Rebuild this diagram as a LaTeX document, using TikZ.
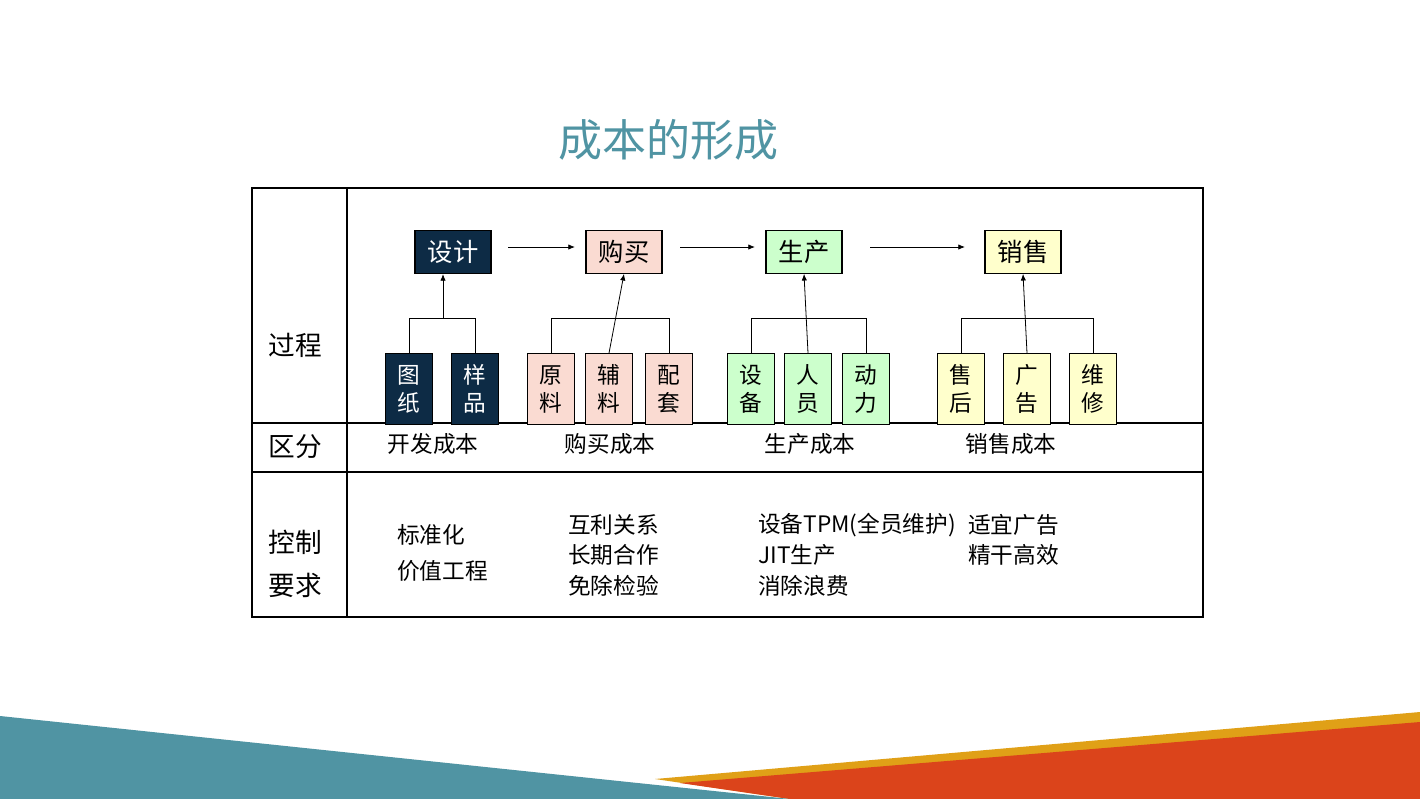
\documentclass[tikz,border=0pt]{standalone}
\usepackage{fontspec}
\setmainfont{Noto Sans CJK SC}
\usetikzlibrary{arrows.meta}
\definecolor{navy}{HTML}{0D2B45}
\definecolor{pinkf}{HTML}{FADBD2}
\definecolor{greenf}{HTML}{CCFFCC}
\definecolor{yellf}{HTML}{FFFFCC}
\definecolor{teal}{HTML}{5094A3}
\definecolor{gold}{HTML}{E0A017}
\definecolor{redo}{HTML}{DB441B}
\tikzset{
 top/.style={draw=black,line width=0.8pt,minimum width=57pt,minimum height=32pt,inner sep=0pt,font=\fontsize{19}{22}\selectfont},
 sub/.style={draw=black,line width=0.8pt,minimum width=35pt,minimum height=53pt,inner sep=0pt,align=center,font=\fontsize{17}{21}\selectfont},
 lab/.style={font=\fontsize{20}{24}\selectfont,align=left},
 txt/.style={font=\fontsize{17}{20}\selectfont,anchor=west,inner sep=0pt},
 arr/.style={-{Latex[length=5pt,width=4pt]},line width=0.6pt},
 ln/.style={line width=0.6pt}
}
\begin{document}
\begin{tikzpicture}[x=0.75pt,y=-0.75pt]
\useasboundingbox (0,0) rectangle (1420,799);
\fill[white] (0,0) rectangle (1420,799);
% banner
\fill[gold] (655,779) -- (1420,712) -- (1420,799) -- (790,799) -- cycle;
\fill[redo] (680,783) -- (1420,722) -- (1420,799) -- (790,799) -- cycle;
\fill[teal] (0,716) -- (790,799) -- (0,799) -- cycle;
% title
\node[text=teal,font=\fontsize{33}{38}\selectfont] (title) at (668,140) {成本的形成};
% table
\draw[line width=0.8pt] (252,423) -- (1203,423) (252,472) -- (1203,472) (347,188) -- (347,617);
\draw[line width=1.6pt] (252,188) rectangle (1203,617);
\node[lab] (l1) at (295,345) {过程};
\node[lab] (l2) at (295,447) {区分};
\node[lab,font=\fontsize{20}{32}\selectfont] (l3) at (295,564) {控制\\要求};
% top nodes
\node[top,fill=navy,text=white] (d) at (453,252) {设计};
\node[top,fill=pinkf] (g) at (624,252) {购买};
\node[top,fill=greenf] (s) at (804,252) {生产};
\node[top,fill=yellf] (x) at (1023,252) {销售};
\draw[arr] (508,247) -- (575,247);
\draw[arr] (680,247) -- (755,247);
\draw[arr] (870,247) -- (965,247);
% sub nodes
\node[sub,fill=navy,text=white] (d1) at (409,389) {图\\纸};
\node[sub,fill=navy,text=white] (d2) at (475,389) {样\\品};
\node[sub,fill=pinkf] (g1) at (551,389) {原\\料};
\node[sub,fill=pinkf] (g2) at (609,389) {辅\\料};
\node[sub,fill=pinkf] (g3) at (669,389) {配\\套};
\node[sub,fill=greenf] (s1) at (751,389) {设\\备};
\node[sub,fill=greenf] (s2) at (808,389) {人\\员};
\node[sub,fill=greenf] (s3) at (866,389) {动\\力};
\node[sub,fill=yellf] (x1) at (961,389) {售\\后};
\node[sub,fill=yellf] (x2) at (1027,389) {广\\告};
\node[sub,fill=yellf] (x3) at (1093,389) {维\\修};
% connectors
\draw[ln] (d1.north) |- (475,318) -- (d2.north);
\draw[arr] (443,318) -- (443,274);
\draw[ln] (g1.north) |- (669,318) -- (g3.north);
\draw[arr] (g2.north) -- (g.south);
\draw[ln] (s1.north) |- (866,318) -- (s3.north);
\draw[arr] (s2.north) -- (s.south);
\draw[ln] (x1.north) |- (1093,318) -- (x3.north);
\draw[arr] (x2.north) -- (x.south);
% row 2
\node[font=\fontsize{17}{20}\selectfont] (c1) at (433,444) {开发成本};
\node[font=\fontsize{17}{20}\selectfont] (c2) at (610,444) {购买成本};
\node[font=\fontsize{17}{20}\selectfont] (c3) at (810,444) {生产成本};
\node[font=\fontsize{17}{20}\selectfont] (c4) at (1011,444) {销售成本};
% row 3
\node[txt] (t1) at (397,535) {标准化};
\node[txt] (t2) at (397,571) {价值工程};
\node[txt] (t3) at (568,525) {互利关系};
\node[txt] (t4) at (568,555) {长期合作};
\node[txt] (t5) at (568,586) {免除检验};
\node[txt] (t6) at (758,525) {设备TPM(全员维护)};
\node[txt] (t7) at (758,555) {JIT生产};
\node[txt] (t8) at (758,586) {消除浪费};
\node[txt] (t9) at (968,525) {适宜广告};
\node[txt] (t10) at (968,555) {精干高效};
\end{tikzpicture}
\end{document}
